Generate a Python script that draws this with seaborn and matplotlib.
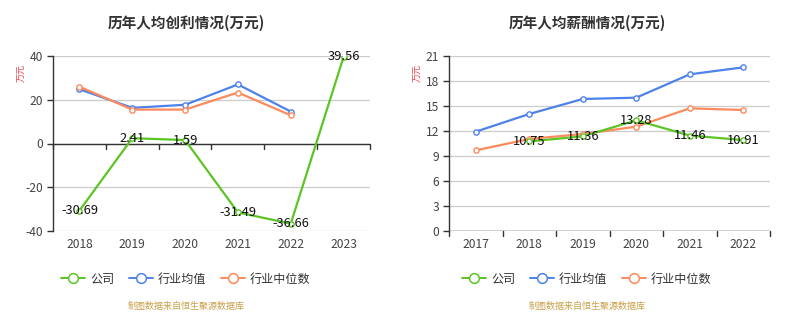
import numpy as np
import pandas as pd
import matplotlib
matplotlib.use("Agg")
import matplotlib.pyplot as plt
from matplotlib.lines import Line2D
import seaborn as sns

# ---- data ----
profit_years = ["2018", "2019", "2020", "2021", "2022", "2023"]
profit_company = [-30.69, 2.41, 1.59, -31.49, -36.66, 39.56]
profit_ind_mean = [24.8, 16.3, 17.7, 27.0, 14.6, np.nan]
profit_ind_median = [26.0, 15.5, 15.5, 23.3, 12.9, np.nan]

salary_years = ["2017", "2018", "2019", "2020", "2021", "2022"]
salary_company = [np.nan, 10.75, 11.36, 13.28, 11.46, 10.91]
salary_ind_mean = [11.92, 14.04, 15.84, 16.0, 18.8, 19.64]
salary_ind_median = [9.68, 11.04, 11.64, 12.52, 14.72, 14.52]

series_names = ["公司", "行业均值", "行业中位数"]
colors = ["#5cc425", "#4e82ea", "#fd8a5c"]

titles = ["历年人均创利情况(万元)", "历年人均薪酬情况(万元)"]
unit = "万元"
source = "制图数据来自恒生聚源数据库"

sns.set_style("white")
plt.rcParams["font.family"] = ["Noto Sans CJK SC", "DejaVu Sans"]

fig = plt.figure(figsize=(7.97, 3.33), dpi=100)
W, H = 797, 333


def px_axes(x0, x1, y0, y1):
    return fig.add_axes([x0 / W, 1 - y1 / H, (x1 - x0) / W, (y1 - y0) / H])


ax1 = px_axes(53, 370, 56, 231)
ax2 = px_axes(449, 770, 56, 231)


def draw(ax, years, series, yticks, ylim, zero_axis):
    x = np.arange(len(years))
    # industry lines underneath, company line on top
    for k in [1, 2, 0]:
        df = pd.DataFrame({"x": x, "y": series[k]}).dropna()
        sns.lineplot(data=df, x="x", y="y", ax=ax, color=colors[k], lw=1.6,
                     marker="o", markersize=3.8, markerfacecolor="white",
                     markeredgecolor=colors[k], markeredgewidth=1.0,
                     zorder=3 if k else 4, legend=False)
    for xi, v in zip(x, series[0]):
        if not np.isnan(v):
            ax.text(xi, v, f"{v:.2f}", ha="center", va="center",
                    fontsize=9.3, color="#111111", zorder=6)
    ax.set_xlim(-0.5, len(years) - 0.5)
    ax.set_ylim(*ylim)
    ax.set_yticks(yticks)
    ax.set_yticklabels([str(t) for t in yticks], fontsize=8.7, color="#444444")
    ax.set_xlabel("")
    ax.set_ylabel("")
    ax.grid(axis="y", color="#cccccc", lw=0.9)
    ax.grid(axis="x", visible=False)
    for s in ["top", "right", "bottom"]:
        ax.spines[s].set_visible(False)
    ax.spines["left"].set_color("#333333")
    ax.spines["left"].set_linewidth(1.0)
    ax.tick_params(axis="y", length=4, width=1, color="#333333", pad=3, left=True)
    # category labels at band centres
    ax.set_xticks(x)
    ax.set_xticklabels(years, fontsize=8.7, color="#444444")
    ax.tick_params(axis="x", length=0, pad=5)
    # category axis line with tick marks at band edges
    ax.axhline(zero_axis, color="#333333", lw=1.0, zorder=2)
    for b in np.arange(-0.5, len(years), 1.0):
        px, py = ax.transData.transform((b, zero_axis))
        ax.add_line(Line2D([px, px], [py, py - 5], transform=None,
                           color="#333333", lw=1.0, clip_on=False))


draw(ax1, profit_years, [profit_company, profit_ind_mean, profit_ind_median],
     [-40, -20, 0, 20, 40], (-40, 40), 0)
draw(ax2, salary_years, [salary_company, salary_ind_mean, salary_ind_median],
     [0, 3, 6, 9, 12, 15, 18, 21], (0, 21), 0)

for cx, title in zip([186, 587], titles):
    fig.text(cx / W, 1 - 23 / H, title, ha="center", va="center",
             fontsize=10.5, fontweight="bold", color="#333333")

for ux in [22, 418]:
    fig.text(ux / W, 1 - 73 / H, unit, ha="center", va="center", rotation=90,
             fontsize=6.5, color="#e8474c")

handles = [Line2D([0], [0], color=c, lw=1.4, marker="o", markersize=7,
                  markerfacecolor="white", markeredgecolor=c, markeredgewidth=1.1)
           for c in colors]
for cx in [186, 587]:
    fig.legend(handles, series_names, loc="center", ncol=3,
               bbox_to_anchor=(cx / W, 1 - 279 / H), frameon=False,
               fontsize=8.7, handlelength=2.0, handletextpad=0.4,
               columnspacing=1.2, labelcolor="#333333")
    fig.text(cx / W, 1 - 306 / H, source, ha="center", va="center",
             fontsize=6.5, color="#c9a04a")

fig.savefig("out.png", dpi=100)
